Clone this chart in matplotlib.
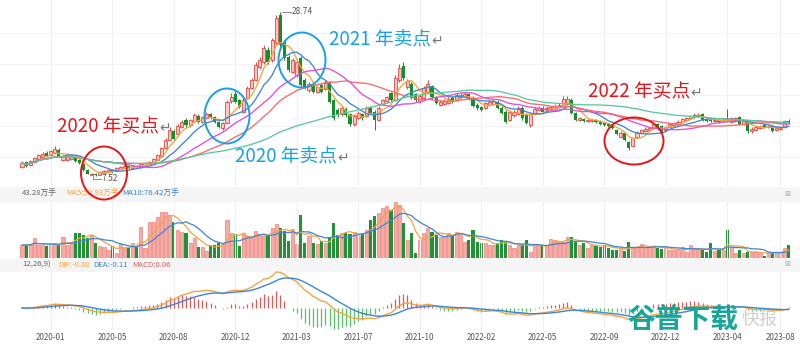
import numpy as np
import pandas as pd
import matplotlib
matplotlib.use('Agg')
import matplotlib.pyplot as plt
from matplotlib.patches import Ellipse, Rectangle

plt.rcParams['font.family'] = ['Noto Sans CJK SC', 'DejaVu Sans']

# weekly bars (index 0 .. 187), prices in 元, volume in 万手
opens = [
    8.68, 9.32, 8.93, 9.32, 9.71, 9.97, 10.49, 10.23, 10.49, 10.87,
    9.58, 9.58, 9.71, 9.97, 9.58, 9.06, 8.29, 7.64, 7.77, 7.66,
    7.90, 8.03, 8.29, 8.16, 8.42, 8.55, 8.80, 8.55, 8.80, 8.68,
    8.93, 9.06, 9.19, 9.58, 10.10, 11.13, 12.17, 13.33, 12.94, 13.85,
    14.76, 14.11, 14.63, 15.27, 14.50, 15.01, 15.53, 15.14, 14.50, 13.72,
    14.37, 17.21, 18.12, 17.34, 15.79, 17.60, 18.90, 19.93, 21.61, 22.26,
    23.81, 22.52, 24.72, 28.34, 24.85, 22.91, 20.96, 20.58, 22.78, 19.93,
    18.64, 19.15, 18.38, 19.28, 18.77, 19.54, 17.34, 16.05, 15.53, 16.18,
    15.53, 14.24, 15.01, 15.53, 15.27, 16.31, 15.79, 14.76, 16.83, 17.21,
    18.25, 17.34, 19.93, 21.74, 19.03, 19.41, 18.12, 17.21, 17.60, 18.38,
    19.15, 17.60, 16.70, 16.83, 16.95, 17.60, 17.34, 17.73, 17.86, 18.12,
    17.60, 16.70, 16.44, 16.31, 16.70, 16.83, 17.08, 16.31, 15.79, 14.76,
    15.40, 15.53, 16.31, 15.40, 14.11, 15.53, 16.05, 16.31, 15.92, 16.18,
    16.31, 16.44, 16.57, 16.83, 17.34, 15.66, 14.76, 14.88, 14.63, 14.63,
    14.76, 14.63, 14.37, 14.24, 14.11, 13.46, 12.56, 13.07, 11.91, 11.39,
    12.56, 13.07, 13.33, 13.46, 13.72, 14.24, 13.98, 13.46, 13.85, 14.11,
    14.24, 14.50, 14.76, 15.01, 15.14, 15.27, 15.53, 14.88, 14.76, 14.63,
    14.76, 14.63, 14.88, 14.50, 14.63, 15.14, 14.24, 14.63, 13.33, 13.46,
    13.72, 14.11, 13.85, 13.98, 13.46, 13.59, 13.85, 14.63,
]
closes = [
    9.19, 8.80, 9.45, 9.84, 10.23, 10.36, 10.10, 10.74, 11.00, 9.97,
    9.97, 10.10, 10.10, 9.45, 9.19, 8.29, 7.77, 7.80, 7.66, 8.03,
    8.16, 8.29, 8.03, 8.55, 8.68, 8.80, 8.55, 8.80, 8.68, 9.06,
    9.19, 9.32, 9.71, 10.23, 11.13, 12.17, 13.46, 12.30, 13.98, 14.50,
    14.11, 14.76, 15.40, 14.50, 15.14, 15.53, 15.01, 14.50, 13.85, 14.37,
    17.08, 17.73, 17.08, 16.44, 17.34, 18.90, 19.93, 21.87, 22.52, 24.07,
    22.26, 25.11, 27.95, 24.46, 22.78, 21.22, 22.52, 22.26, 19.28, 18.90,
    19.41, 18.38, 19.03, 18.38, 19.54, 17.08, 15.01, 15.40, 16.31, 15.40,
    14.24, 15.27, 15.66, 15.01, 16.31, 15.66, 14.76, 16.31, 17.34, 17.73,
    17.34, 20.19, 21.48, 20.19, 19.80, 17.60, 17.34, 17.86, 18.90, 19.41,
    17.73, 16.95, 17.08, 17.21, 17.47, 17.21, 17.99, 17.99, 18.12, 17.47,
    16.57, 16.31, 16.05, 16.95, 17.08, 17.21, 16.31, 15.66, 14.50, 15.79,
    15.79, 16.31, 15.01, 14.37, 15.53, 16.18, 16.31, 15.79, 16.31, 16.44,
    16.57, 16.70, 17.47, 17.47, 15.66, 14.76, 15.01, 14.63, 14.76, 14.76,
    14.50, 14.24, 14.11, 13.98, 13.72, 12.94, 13.07, 12.17, 11.13, 12.43,
    13.07, 13.46, 13.59, 13.72, 14.24, 13.59, 13.33, 13.85, 14.24, 14.37,
    14.50, 14.88, 15.01, 15.27, 15.40, 15.40, 14.76, 14.63, 14.63, 14.76,
    14.50, 14.76, 14.63, 15.01, 15.01, 14.24, 14.63, 13.33, 13.59, 13.85,
    13.98, 13.85, 13.98, 13.33, 13.72, 13.72, 14.63, 14.37,
]
highs = [
    9.4, 9.5, 9.6, 10.0, 10.4, 10.6, 10.7, 10.9, 11.4, 11.1,
    10.2, 10.3, 10.3, 10.1, 9.7, 9.2, 8.4, 7.95, 7.9, 8.15,
    8.3, 8.4, 8.4, 8.65, 8.8, 8.95, 8.95, 8.9, 8.9, 9.2,
    9.35, 9.45, 9.85, 10.4, 11.3, 12.4, 13.8, 13.6, 14.2, 14.8,
    15.0, 14.9, 15.6, 15.5, 15.3, 15.8, 15.7, 15.3, 14.6, 14.5,
    17.3, 18.2, 18.5, 17.5, 17.6, 19.1, 20.2, 22.2, 22.9, 24.4,
    24.2, 25.4, 28.3, 28.74, 25.1, 23.2, 22.8, 22.6, 23.0, 20.2,
    19.7, 19.4, 19.2, 19.5, 19.9, 19.8, 17.5, 16.3, 16.5, 16.4,
    15.7, 15.5, 15.9, 15.7, 16.5, 16.5, 16.0, 16.5, 17.5, 17.9,
    18.4, 20.6, 22.0, 22.3, 20.0, 19.6, 18.3, 18.1, 19.2, 19.9,
    19.3, 17.8, 17.3, 17.4, 17.7, 17.8, 18.2, 18.2, 18.4, 18.3,
    17.8, 16.9, 16.6, 17.1, 17.3, 17.4, 17.3, 16.5, 16.0, 16.0,
    16.0, 16.5, 16.5, 15.6, 15.7, 16.4, 16.5, 16.5, 16.5, 16.6,
    16.8, 16.9, 17.8, 17.8, 17.6, 15.8, 15.2, 15.0, 14.9, 14.9,
    14.9, 14.8, 14.5, 14.4, 14.2, 13.6, 13.3, 13.2, 12.0, 12.6,
    13.3, 13.6, 13.8, 13.9, 14.4, 14.4, 14.1, 14.0, 14.4, 14.5,
    14.7, 15.0, 15.2, 15.4, 15.6, 15.6, 15.7, 15.0, 14.9, 14.9,
    14.9, 14.9, 16.2, 15.2, 15.2, 15.3, 14.8, 14.8, 13.8, 14.0,
    14.1, 14.2, 14.1, 14.1, 13.9, 13.9, 14.8, 14.9,
]
lows = [
    8.5, 8.7, 8.8, 9.2, 9.6, 9.9, 10.0, 10.1, 10.4, 9.9,
    9.4, 9.5, 9.6, 9.3, 9.1, 8.2, 7.7, 7.58, 7.52, 7.6,
    7.85, 7.95, 7.95, 8.1, 8.35, 8.5, 8.45, 8.5, 8.6, 8.6,
    8.85, 9.0, 9.1, 9.5, 10.0, 11.0, 12.0, 12.1, 12.8, 13.7,
    13.9, 13.9, 14.5, 14.3, 14.3, 14.9, 14.9, 14.4, 13.7, 13.4,
    14.2, 17.0, 16.9, 16.3, 15.6, 17.4, 18.7, 19.8, 21.4, 22.0,
    22.0, 22.3, 24.5, 24.2, 22.5, 21.0, 20.8, 20.3, 19.0, 18.7,
    18.4, 18.2, 18.2, 18.2, 18.6, 16.9, 14.8, 15.2, 15.3, 15.2,
    14.0, 14.0, 14.9, 14.8, 15.1, 15.5, 13.4, 14.6, 16.7, 17.0,
    17.2, 17.2, 19.7, 19.9, 18.8, 17.4, 17.1, 17.0, 17.4, 18.2,
    17.5, 16.8, 16.5, 16.7, 16.8, 17.0, 17.2, 17.5, 17.7, 17.3,
    16.4, 16.1, 15.9, 16.2, 16.6, 16.7, 16.2, 15.5, 14.3, 14.6,
    15.2, 15.4, 14.8, 14.2, 13.9, 15.4, 15.9, 15.6, 15.8, 16.0,
    16.2, 16.3, 16.4, 16.7, 15.5, 14.6, 14.6, 14.5, 14.5, 14.5,
    14.4, 14.1, 14.0, 13.8, 13.6, 12.8, 12.4, 12.0, 10.9, 11.3,
    12.4, 12.9, 13.2, 13.3, 13.6, 13.5, 13.2, 13.3, 13.7, 14.0,
    14.1, 14.4, 14.6, 14.9, 15.0, 15.1, 14.6, 14.5, 14.5, 14.5,
    14.4, 14.5, 14.5, 14.3, 14.5, 14.1, 14.1, 13.1, 13.1, 13.3,
    13.6, 13.7, 13.7, 13.2, 13.3, 13.5, 13.7, 14.2,
]
volumes = [
    39, 39, 39, 60, 39, 39, 36, 39, 45, 39,
    63, 39, 45, 75, 75, 69, 60, 69, 45, 36,
    33, 24, 36, 15, 42, 33, 33, 45, 33, 93,
    30, 108, 108, 123, 138, 138, 129, 108, 84, 78,
    75, 45, 60, 33, 33, 21, 39, 39, 45, 42,
    114, 75, 72, 36, 75, 66, 60, 81, 72, 66,
    66, 90, 102, 90, 81, 51, 87, 42, 129, 45,
    66, 45, 42, 51, 45, 60, 105, 69, 75, 75,
    72, 78, 66, 72, 84, 114, 126, 135, 150, 156,
    144, 168, 159, 105, 54, 75, 15, 54, 75, 90,
    78, 69, 63, 66, 75, 69, 78, 75, 48, 54,
    84, 48, 45, 45, 39, 39, 45, 54, 48, 39,
    30, 39, 39, 54, 18, 39, 39, 39, 39, 57,
    54, 51, 48, 63, 63, 48, 39, 45, 30, 39,
    36, 33, 39, 30, 24, 24, 30, 21, 48, 30,
    33, 42, 33, 33, 36, 30, 27, 30, 24, 24,
    24, 33, 18, 39, 27, 27, 24, 18, 45, 21,
    24, 24, 84, 33, 15, 24, 15, 18, 18, 18,
    15, 6, 18, 18, 18, 18, 30, 39,
]

tick_bars = [7, 22, 37, 52, 67, 82, 97, 112, 127, 142, 157, 172, 185]
tick_labels = ['2020-01', '2020-05', '2020-08', '2020-12', '2021-03', '2021-07',
               '2021-10', '2022-02', '2022-05', '2022-09', '2022-12', '2023-04',
               '2023-08']

ma_periods = [5, 10, 20, 30, 60]
ma_colors = ['#f5a442', '#3d86d6', '#e04fd4', '#f26d6d', '#5cc89e']

RED_EDGE = '#e8433f'
RED_FACE = '#fbc7c2'
GREEN = '#12902a'
ORANGE = '#f5a442'
BLUE = '#3d86d6'

W, H = 800, 345


def px_axes(fig, top, bottom):
    # axes spanning full width between two pixel rows (from the top)
    return fig.add_axes([0, 1 - bottom / H, 1, (bottom - top) / H])


def clean(ax):
    for s in ax.spines.values():
        s.set_visible(False)
    ax.set_facecolor('none')
    ax.tick_params(length=0, labelbottom=False, labelleft=False)
    ax.set_xticks(tick_bars)
    ax.set_xlim(-22 / 4.1, (W - 22) / 4.1)
    ax.grid(axis='x', color='#f0f0f0', lw=0.8)


def ftext(fig, x, y, s, **kw):
    kw.setdefault('va', 'center')
    return fig.text(x / W, 1 - y / H, s, **kw)


def ring(fig, cx, cy, w, h, color):
    fig.add_artist(Ellipse((cx / W, 1 - cy / H), w / W, h / H,
                           transform=fig.transFigure, fill=False,
                           ec=color, lw=1.4, zorder=10))


def main():
    o = np.array(opens)
    c = np.array(closes)
    hi = np.array(highs)
    lo = np.array(lows)
    vol = np.array(volumes)
    x = np.arange(len(c))
    up = c >= o

    fig = plt.figure(figsize=(8, 3.45), dpi=100)

    # header strips
    for y0, y1 in [(187, 201), (259, 271)]:
        fig.add_artist(Rectangle((0, 1 - y1 / H), 1, (y1 - y0) / H,
                                 transform=fig.transFigure, color='#f5f5f5', zorder=0))

    # ---- price panel
    ax = px_axes(fig, 0, 186)
    clean(ax)
    ax.set_ylim((234 - 186) / 7.73, 234 / 7.73)
    ax.set_yticks([10, 14, 18, 22, 26])
    ax.grid(axis='y', color='#f3f3f3', lw=0.8)

    ax.vlines(x[up], lo[up], hi[up], color=RED_EDGE, lw=0.7, zorder=2)
    ax.vlines(x[~up], lo[~up], hi[~up], color=GREEN, lw=0.7, zorder=2)
    body_b = np.minimum(o, c)
    body_h = np.maximum(np.abs(c - o), 0.07)
    ax.bar(x[up], body_h[up], bottom=body_b[up], width=0.75,
           facecolor=RED_FACE, edgecolor=RED_EDGE, lw=0.6, zorder=3)
    ax.bar(x[~up], body_h[~up], bottom=body_b[~up], width=0.75,
           color=GREEN, lw=0, zorder=3)

    s = pd.Series(c)
    for n, col in zip(ma_periods, ma_colors):
        ax.plot(x, s.rolling(n, min_periods=1).mean(), color=col, lw=0.95, zorder=4)

    # max / min markers
    i_hi = int(np.argmax(hi))
    ax.plot([i_hi + 0.4, i_hi + 2.6], [hi[i_hi]] * 2, color='#777', lw=0.6)
    ax.text(i_hi + 2.8, hi[i_hi], f'{hi[i_hi]:.2f}', fontsize=6, color='#555', va='center')
    i_lo = int(np.argmin(lo))
    ax.plot([i_lo - 0.6, i_lo - 0.6, i_lo + 1.2], [lo[i_lo], lo[i_lo] - 0.4, lo[i_lo] - 0.4],
            color='#777', lw=0.6)
    ax.text(i_lo + 1.3, lo[i_lo] - 0.4, f'{lo[i_lo]:.2f}', fontsize=6, color='#555', va='center')

    # ---- volume panel
    axv = px_axes(fig, 201, 258)
    clean(axv)
    axv.set_ylim(0, 171)
    axv.bar(x[up], vol[up], width=0.75, facecolor='#f6aca6', edgecolor='#eb6a64', lw=0.4)
    axv.bar(x[~up], vol[~up], width=0.75, color='#1e9434', lw=0)
    vs = pd.Series(vol, dtype=float)
    axv.plot(x, vs.rolling(5, min_periods=1).mean(), color=ORANGE, lw=0.9)
    axv.plot(x, vs.rolling(10, min_periods=1).mean(), color=BLUE, lw=0.9)

    # ---- MACD panel
    axm = px_axes(fig, 271, 330)
    clean(axm)
    dif = s.ewm(span=12, adjust=False).mean() - s.ewm(span=26, adjust=False).mean()
    dea = dif.ewm(span=9, adjust=False).mean()
    hist = 2 * (dif - dea)
    top = dif.max() * 1.03
    axm.set_ylim(-top * 22 / 37, top)
    pos = hist >= 0
    axm.vlines(x[pos], 0, hist[pos], color='#e25a58', lw=0.9)
    axm.vlines(x[~pos], 0, hist[~pos], color='#5cbf6a', lw=0.9)
    axm.plot(x, dif, color=ORANGE, lw=1.0)
    axm.plot(x, dea, color=BLUE, lw=1.0)
    axm.set_xticks(tick_bars, tick_labels)
    axm.tick_params(labelbottom=True, pad=2, labelsize=5.8, labelcolor='#555')

    # header texts
    ftext(fig, 22, 194, '43.28万手', color='#666', fontsize=5.6)
    ftext(fig, 66, 194, 'MA5:52.93万手', color=ORANGE, fontsize=5.6)
    ftext(fig, 122, 194, 'MA10:76.42万手', color=BLUE, fontsize=5.6)
    ftext(fig, 22, 265, '12,26,9)', color='#666', fontsize=5.6)
    ftext(fig, 58, 265, 'DIF:-0.08', color=ORANGE, fontsize=5.6)
    ftext(fig, 93, 265, 'DEA:-0.11', color=BLUE, fontsize=5.6)
    ftext(fig, 132, 265, 'MACD:0.06', color='#e25a58', fontsize=5.6)
    for yy in (194, 264):
        ftext(fig, 784, yy, '⊠', color='#aaa', fontsize=5, family='DejaVu Sans')

    # buy / sell annotations, each followed by a grey return mark
    red, cyan = '#e3161b', '#1ba1e2'
    notes = [
        (57, 127, '2020 年买点', red),
        (329, 40, '2021 年卖点', cyan),
        (235, 157, '2020 年卖点', cyan),
        (588, 92, '2022 年买点', red),
    ]
    labels = [ftext(fig, tx, ty, label, color=col, fontsize=13.5)
              for tx, ty, label, col in notes]
    fig.canvas.draw()
    renderer = fig.canvas.get_renderer()
    for t, (tx, ty, label, col) in zip(labels, notes):
        bb = t.get_window_extent(renderer)
        ftext(fig, bb.x1 + 0.5, ty + 1, '↵', color='#777', fontsize=10, family='DejaVu Sans')

    ring(fig, 104, 173, 46, 53, red)
    ring(fig, 227, 116, 45, 55, cyan)
    ring(fig, 302, 60, 47, 55, cyan)
    ring(fig, 634, 141, 59, 47, red)

    # watermark
    ftext(fig, 683, 320, '谷普下载', color='#17a598', fontsize=20, fontweight='bold', ha='center')
    ftext(fig, 760, 320, '快报', color='#cfcfcf', fontsize=13, ha='center')

    fig.savefig('out.png', dpi=100)
    plt.close(fig)


if __name__ == '__main__':
    main()
